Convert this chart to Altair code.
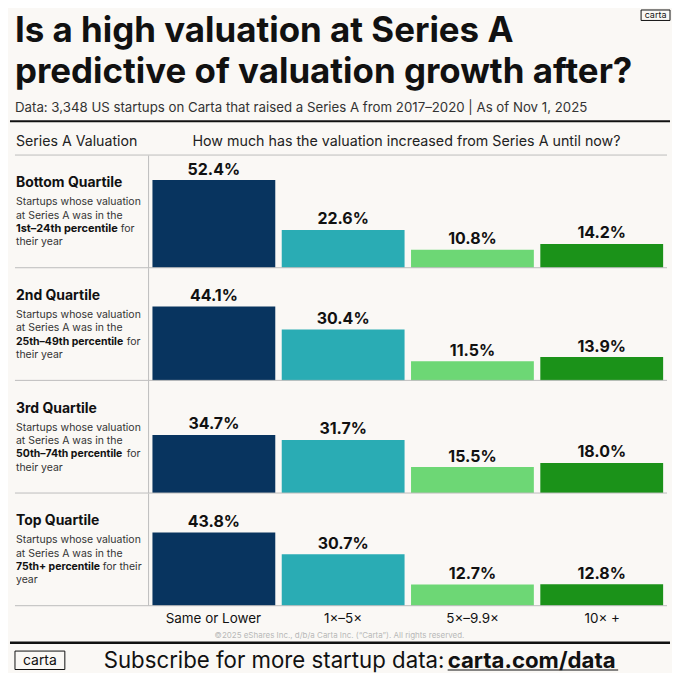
import altair as alt
import pandas as pd

# ---------------- data ----------------
buckets = ["Same or Lower", "1×–5×", "5×–9.9×", "10× +"]
quartiles = ["Bottom Quartile", "2nd Quartile", "3rd Quartile", "Top Quartile"]
bottom_q = [52.4, 22.6, 10.8, 14.2]
second_q = [44.1, 30.4, 11.5, 13.9]
third_q = [34.7, 31.7, 15.5, 18.0]
top_q = [43.8, 30.7, 12.7, 12.8]
series = [bottom_q, second_q, third_q, top_q]

desc_line1 = "Startups whose valuation"
desc_line2 = "at Series A was in the"
pct_bold = ["1st–24th percentile", "25th–49th percentile", "50th–74th percentile", "75th+ percentile"]
pct_rest = ["for", "for", "for", "for their"]
last_line = ["their year", "their year", "their year", "year"]

colors = ["#08345F", "#2AACB4", "#6DD775", "#1B9219"]

title_1 = "Is a high valuation at Series A"
title_2 = "predictive of valuation growth after?"
subtitle = "Data: 3,348 US startups on Carta that raised a Series A from 2017–2020 | As of Nov 1, 2025"
left_header = "Series A Valuation"
right_header = "How much has the valuation increased from Series A until now?"
copyright_txt = "©2025 eShares Inc., d/b/a Carta Inc. (\u201cCarta\u201d). All rights reserved."
cta_plain = "Subscribe for more startup data:"
cta_bold = "carta.com/data"
logo = "carta"

# ---------------- style ----------------
FONT = "Inter"
BG = "#FAF8F5"
GRID = "#BDBDBD"
W = 664
RH = 112.5
one = pd.DataFrame({"k": [0]})


def txt(s, x, y, size, weight="normal", color="#111", align="left", font=FONT):
    return alt.Chart(one).mark_text(
        font=font, fontSize=size, fontWeight=weight, color=color,
        align=align, baseline="alphabetic"
    ).encode(x=alt.value(x), y=alt.value(y), text=alt.value(s))


def hline(x1, x2, y, color=GRID, width=1):
    return alt.Chart(one).mark_rule(color=color, strokeWidth=width).encode(
        x=alt.value(x1), x2=alt.value(x2), y=alt.value(y))


def vline(x, y1, y2, color=GRID, width=1):
    return alt.Chart(one).mark_rule(color=color, strokeWidth=width).encode(
        x=alt.value(x), y=alt.value(y1), y2=alt.value(y2))


def box(x1, x2, y1, y2):
    return alt.Chart(one).mark_rect(fill="transparent", stroke="#111", strokeWidth=1).encode(
        x=alt.value(x1), x2=alt.value(x2), y=alt.value(y1), y2=alt.value(y2))


def xscale():
    return alt.Scale(domain=buckets, range=[140, 660], paddingInner=0.05, paddingOuter=0.03)


# ---------------- header ----------------
head = alt.layer(
    txt(title_1, 6, 33.5, 35, "bold"),
    txt(title_2, 6, 74, 35, "bold"),
    box(634, 663, 1, 11.5),
    txt(logo, 648.5, 9.5, 9, "normal", align="center"),
    txt(subtitle, 6, 103.5, 13.3, "normal", color="#333"),
    hline(1, 663, 112.7, color="#111", width=2),
    txt(left_header, 7, 137.5, 14.2, "normal", color="#222"),
    txt(right_header, 184, 137.5, 14.3, "normal", color="#222"),
    hline(6, 660, 146.5),
).properties(width=W, height=147)


# ---------------- rows ----------------
def row_chart(i):
    df = pd.DataFrame({"bucket": buckets, "pct": series[i]})
    base = alt.Chart(df)
    bars = base.mark_bar().encode(
        x=alt.X("bucket:N", sort=buckets, scale=xscale(), axis=None),
        y=alt.Y("pct:Q", scale=alt.Scale(domain=[0, 67], nice=False, zero=True), axis=None),
        color=alt.Color("bucket:N", scale=alt.Scale(domain=buckets, range=colors), legend=None),
    )
    labels = base.transform_calculate(
        label="format(datum.pct, '.1f') + '%'"
    ).mark_text(
        font=FONT, fontSize=16, fontWeight="bold", color="#111",
        align="center", baseline="alphabetic", dy=-5.5
    ).encode(
        x=alt.X("bucket:N", sort=buckets, scale=xscale(), axis=None),
        y=alt.Y("pct:Q", scale=alt.Scale(domain=[0, 67], nice=False, zero=True), axis=None),
        text="label:N",
    )
    rest_x = [112, 118, 118, 94][i]
    bold_size = 11 if i == 0 else 10.5
    layers = [
        bars,
        labels,
        txt(quartiles[i], 7, 32, 14, "bold"),
        txt(desc_line1, 7, 50, 10.5, "normal", color="#333"),
        txt(desc_line2, 7, 63.3, 10.5, "normal", color="#333"),
        txt(pct_bold[i], 7, 76.6, bold_size, "bold", color="#111"),
        txt(pct_rest[i], rest_x, 76.6, 10.5, "normal", color="#333"),
        txt(last_line[i], 7, 89.9, 10.5, "normal", color="#333"),
        vline(140, 0, RH),
        hline(6, 660, RH),
    ]
    return alt.layer(*layers).properties(width=W, height=RH)


rows = [row_chart(i) for i in range(4)]

# ---------------- footer ----------------
cat_df = pd.DataFrame({"bucket": buckets})
cats = alt.Chart(cat_df).mark_text(
    font=FONT, fontSize=13.5, color="#111", align="center", baseline="alphabetic"
).encode(
    x=alt.X("bucket:N", sort=buckets, scale=xscale(), axis=None),
    y=alt.value(16.7),
    text="bucket:N",
)

foot = alt.layer(
    cats,
    txt(copyright_txt, 331.5, 32, 8, "normal", color="#B8B8B8", align="center"),
    hline(1, 663, 36.7, color="#111", width=2.5),
    box(6, 56, 45, 63.5),
    txt(logo, 31, 59, 14, "normal", align="center"),
    txt(cta_plain, 95, 61.5, 22.3, "normal", color="#111"),
    txt(cta_bold, 440, 61.5, 22.3, "bold", color="#111"),
    hline(440, 611, 64, color="#111", width=1),
).properties(width=W, height=65)

chart = alt.VConcatChart(
    vconcat=[head] + rows + [foot],
    spacing=0,
    bounds="flush",
    padding=0,
    background=BG,
).configure_view(stroke=None)

chart.save("out.html", embed_options={"renderer": "svg", "actions": False})
